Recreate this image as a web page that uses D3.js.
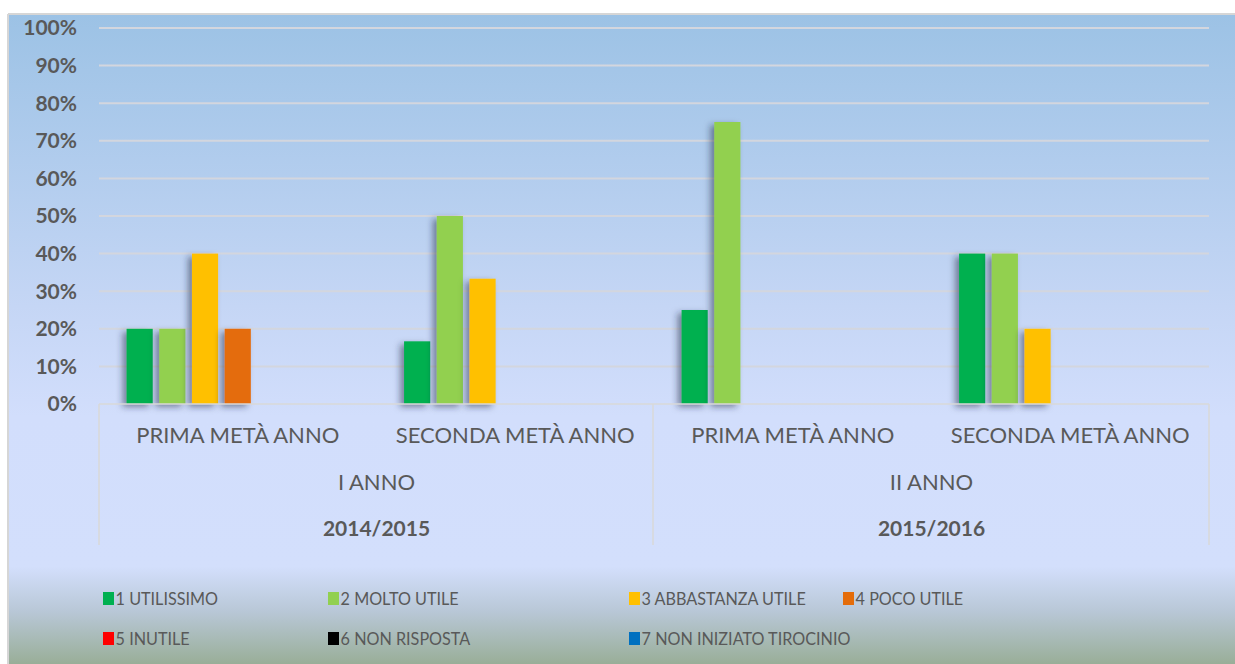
<!DOCTYPE html>
<html>
<head>
<meta charset="utf-8">
<script src="https://cdn.jsdelivr.net/npm/d3@7"></script>
<style>
  body { margin: 0; background: #fff; }
  svg { display: block; }
  text { font-family: Lato, "Open Sans", sans-serif; fill: #595959; }
</style>
</head>
<body>
<div class="chart"></div>
<script>
var wi = 1235;
var he = 664;

// data
var categories = ["PRIMA METÀ ANNO", "SECONDA METÀ ANNO", "PRIMA METÀ ANNO ", "SECONDA METÀ ANNO "];
var years = ["I ANNO", "II ANNO"];
var periods = ["2014/2015", "2015/2016"];
var series = ["1 UTILISSIMO", "2 MOLTO UTILE", "3 ABBASTANZA UTILE", "4 POCO UTILE", "5 INUTILE", "6 NON RISPOSTA", "7 NON INIZIATO TIROCINIO"];
var colors = ["#00B050", "#92D050", "#FFC000", "#E46C0A", "#FF0000", "#000000", "#0070C0"];
var s1 = [0.20, 0.1667, 0.25, 0.40];
var s2 = [0.20, 0.50, 0.75, 0.40];
var s3 = [0.40, 0.3333, 0, 0.20];
var s4 = [0.20, 0, 0, 0];
var s5 = [0, 0, 0, 0];
var s6 = [0, 0, 0, 0];
var s7 = [0, 0, 0, 0];
var yTicks = [0, 0.1, 0.2, 0.3, 0.4, 0.5, 0.6, 0.7, 0.8, 0.9, 1];

var allSeries = [s1, s2, s3, s4, s5, s6, s7];

var svg = d3.select(".chart").append("svg")
    .attr("width", wi)
    .attr("height", he);

var defs = svg.append("defs");
var grad = defs.append("linearGradient")
    .attr("id", "bg")
    .attr("x1", 0).attr("y1", 0).attr("x2", 0).attr("y2", 1);
grad.append("stop").attr("offset", "0%").attr("stop-color", "#9CC2E5");
grad.append("stop").attr("offset", "45%").attr("stop-color", "#C5D6F5");
grad.append("stop").attr("offset", "62%").attr("stop-color", "#D2DEFC");
grad.append("stop").attr("offset", "85%").attr("stop-color", "#D3DFFC");
grad.append("stop").attr("offset", "92%").attr("stop-color", "#B8C7D6");
grad.append("stop").attr("offset", "100%").attr("stop-color", "#99AE98");

var shadow = defs.append("filter")
    .attr("id", "shadow")
    .attr("x", "-50%").attr("y", "-20%")
    .attr("width", "200%").attr("height", "140%");
shadow.append("feDropShadow")
    .attr("dx", -4).attr("dy", 3)
    .attr("stdDeviation", 3)
    .attr("flood-color", "#1a2540")
    .attr("flood-opacity", 0.5);

// frame
svg.append("rect")
    .attr("x", 9).attr("y", 14)
    .attr("width", wi - 9).attr("height", he - 14)
    .attr("fill", "url(#bg)");
svg.append("line")
    .attr("x1", 8).attr("x2", wi).attr("y1", 14).attr("y2", 14)
    .attr("stroke", "#d6d6d6").attr("stroke-width", 2);
svg.append("line")
    .attr("x1", 8).attr("x2", 8).attr("y1", 14).attr("y2", he)
    .attr("stroke", "#d6d6d6").attr("stroke-width", 2);

var x0 = d3.scaleBand()
    .domain(categories)
    .range([99, 1209]);

var x1 = d3.scaleBand()
    .domain(series)
    .range([0, x0.bandwidth()])
    .paddingInner(0.2)
    .paddingOuter(0.843);

var yScale = d3.scaleLinear()
    .domain([0, 1])
    .range([404, 28]);

// gridlines
svg.append("g")
    .selectAll("line")
    .data(yTicks.slice(1))
    .enter()
    .append("line")
    .attr("x1", 99).attr("x2", 1209)
    .attr("y1", function(d) { return yScale(d); })
    .attr("y2", function(d) { return yScale(d); })
    .attr("stroke", "#d3d6de")
    .attr("stroke-width", 2);

// y labels
svg.append("g")
    .selectAll("text")
    .data(yTicks)
    .enter()
    .append("text")
    .attr("x", 77)
    .attr("y", function(d) { return yScale(d); })
    .attr("dy", "0.35em")
    .attr("text-anchor", "end")
    .style("font-size", "21px")
    .style("font-weight", "bold")
    .text(d3.format(".0%"));

// bars
var groups = svg.append("g")
    .selectAll("g")
    .data(categories)
    .enter()
    .append("g")
    .attr("transform", function(d) { return "translate(" + x0(d) + ",0)"; });

groups.selectAll("rect")
    .data(function(d, i) {
      return series.map(function(s, j) { return {s: s, v: allSeries[j][i], c: colors[j]}; });
    })
    .enter()
    .filter(function(d) { return d.v > 0; })
    .append("rect")
    .attr("x", function(d) { return x1(d.s); })
    .attr("width", x1.bandwidth())
    .attr("y", function(d) { return yScale(d.v); })
    .attr("height", function(d) { return yScale(0) - yScale(d.v); })
    .attr("fill", function(d) { return d.c; })
    .attr("filter", "url(#shadow)");

// axis lines
svg.append("line")
    .attr("x1", 99).attr("x2", 1209).attr("y1", 404).attr("y2", 404)
    .attr("stroke", "#d9d9d9").attr("stroke-width", 1.5);
svg.append("g")
    .selectAll("line")
    .data([99, 653, 1209])
    .enter()
    .append("line")
    .attr("x1", function(d) { return d; }).attr("x2", function(d) { return d; })
    .attr("y1", 404).attr("y2", 545)
    .attr("stroke", "#d9d9d9").attr("stroke-width", 1.5);

// category labels
svg.append("g")
    .selectAll("text")
    .data(categories)
    .enter()
    .append("text")
    .attr("x", function(d) { return x0(d) + x0.bandwidth() / 2; })
    .attr("y", 443)
    .attr("text-anchor", "middle")
    .style("font-size", "22px")
    .text(function(d) { return d.trim(); });

svg.append("g")
    .selectAll("text")
    .data(years)
    .enter()
    .append("text")
    .attr("x", function(d, i) { return x0(categories[i * 2]) + x0.bandwidth(); })
    .attr("y", 490)
    .attr("text-anchor", "middle")
    .style("font-size", "22px")
    .text(function(d) { return d; });

svg.append("g")
    .selectAll("text")
    .data(periods)
    .enter()
    .append("text")
    .attr("x", function(d, i) { return x0(categories[i * 2]) + x0.bandwidth(); })
    .attr("y", 536)
    .attr("text-anchor", "middle")
    .style("font-size", "21px")
    .style("font-weight", "bold")
    .text(function(d) { return d; });

// legend
var legX = [103, 328, 629, 843];
var legend = svg.append("g")
    .selectAll("g")
    .data(series)
    .enter()
    .append("g")
    .attr("transform", function(d, i) {
      return "translate(" + legX[i % 4] + "," + (599 + Math.floor(i / 4) * 40) + ")";
    });

legend.append("rect")
    .attr("x", 0).attr("y", -7)
    .attr("width", 11).attr("height", 13)
    .attr("fill", function(d, i) { return colors[i]; });

legend.append("text")
    .attr("x", 14)
    .attr("y", 0)
    .attr("dy", "0.35em")
    .attr("transform", "scale(0.9,1)")
    .style("font-size", "18px")
    .text(function(d) { return d; });
</script>
</body>
</html>
